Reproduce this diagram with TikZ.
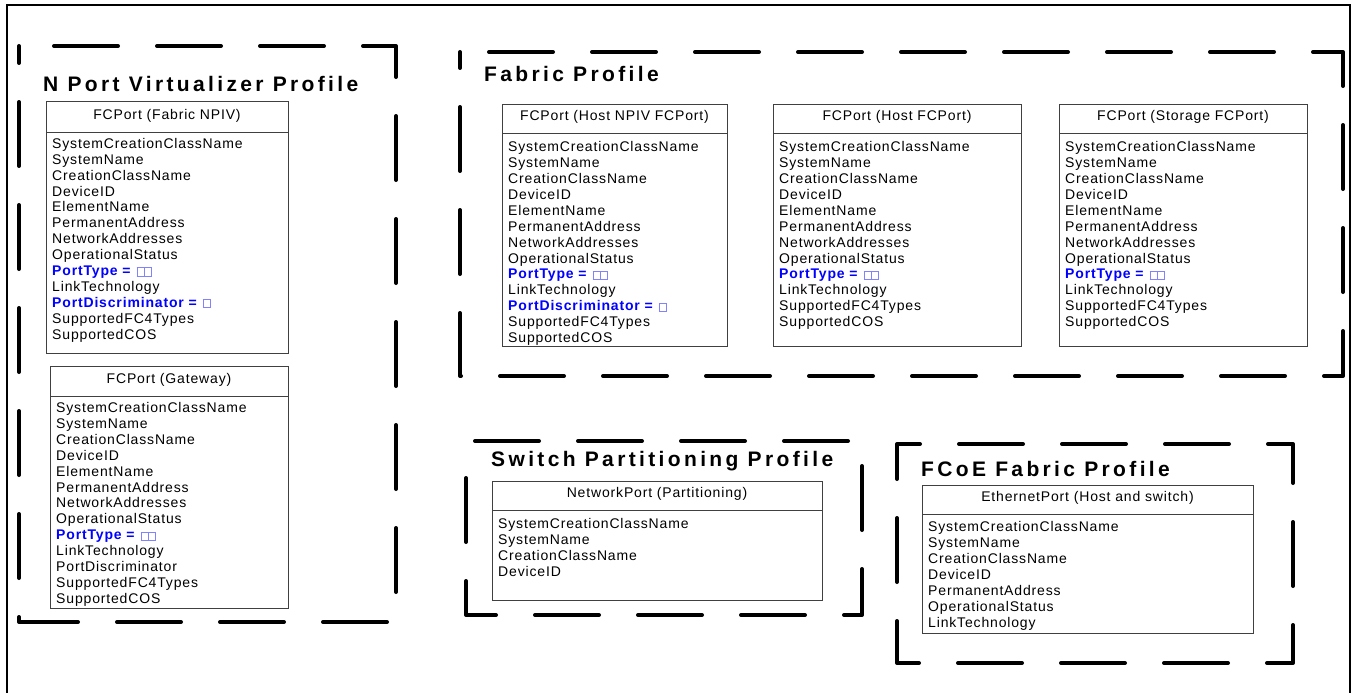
\documentclass[tikz,border=0pt]{standalone}
\usepackage{fontspec}
\setmainfont{Liberation Sans}
\newfontfamily\bodyfont[LetterSpace=6]{Liberation Sans}
\newfontfamily\ttlfont[LetterSpace=16]{Liberation Sans}
\definecolor{pblue}{RGB}{0,0,255}
\definecolor{sqblue}{RGB}{130,130,255}
\newcommand\sqglyph{\textcolor{sqblue}{\fboxsep=0pt\fboxrule=0.8pt\fbox{\rule{0pt}{7.4pt}\hspace{6.4pt}}}}
\newcommand\ptype{\textcolor{pblue}{\bfseries PortType =}\hspace{6pt}\sqglyph\hspace{-0.8pt}\sqglyph}
\newcommand\pdisc{\textcolor{pblue}{\bfseries PortDiscriminator =}\hspace{6pt}\sqglyph}
\tikzset{
  profile/.style={line width=4pt, line cap=round, line join=round, dash pattern=on 64pt off 39pt},
  classbox/.style={draw=black!75, line width=0.8pt, rectangle, inner sep=0pt, outer sep=0pt, anchor=north west},
  classline/.style={draw=black!75, line width=0.8pt},
  rowtext/.style={font=\bodyfont\fontsize{14}{16}\selectfont, anchor=base west, inner sep=0pt},
  hdtext/.style={font=\bodyfont\fontsize{14}{16}\selectfont, anchor=base, inner sep=0pt},
  ptitle/.style={font=\ttlfont\bfseries\fontsize{21}{24}\selectfont, anchor=base west, inner sep=0pt},
  frame/.style={line width=1.5pt}
}
% #1 name, #2 x1, #3 y1, #4 x2, #5 ydiv, #6 y2, #7 first row baseline, #8 header, #9 rows
\newcommand\umlbox[9]{%
  \node[classbox, minimum width={(#4-#2)*1pt}, minimum height={(#6-#3)*1pt}] (#1) at (#2,#3) {};
  \draw[classline] (#2,#5) -- (#4,#5);
  \node[hdtext] (#1-h) at ({(#2+#4)/2},{#5-12.5}) {#8};
  \foreach \rowtxt [count=\i from 0] in {#9}
    \node[rowtext] (#1-r\i) at ({#2+6},{#7+15.9*\i}) {\rowtxt};
}
\begin{document}
\begin{tikzpicture}[x=1pt,y=-1pt]
\useasboundingbox (0,0) rectangle (1354,693);
\fill[white] (0,0) rectangle (1354,693);
\draw[frame] (7,693) -- (7,5) -- (1350,5) -- (1350,693);

% profiles
\draw[profile, dash phase=68pt] (19,46) -- (396,46) -- (396,622) -- (19,622) -- cycle;
\draw[profile, dash phase=74pt] (460,52) -- (1343,52) -- (1343,376) -- (460,376) -- cycle;
\draw[profile, dash phase=94pt] (466,441) -- (862,441) -- (862,615) -- (466,615) -- cycle;
\draw[profile, dash phase=41pt] (897,444) -- (1293,444) -- (1293,663) -- (897,663) -- cycle;

\node[ptitle] (t-npiv) at (43,91.5) {N Port Virtualizer Profile};
\node[ptitle] (t-fab) at (484,81.5) {Fabric Profile};
\node[ptitle] (t-sw) at (491,466.5) {Switch Partitioning Profile};
\node[ptitle] (t-fcoe) at (921,476.5) {FCoE Fabric Profile};

\umlbox{npiv}{46}{101}{288}{132}{353}{148.3}{FCPort (Fabric NPIV)}{SystemCreationClassName,SystemName,CreationClassName,DeviceID,ElementName,PermanentAddress,NetworkAddresses,OperationalStatus,\ptype,LinkTechnology,\pdisc,SupportedFC4Types,SupportedCOS}
\umlbox{gw}{50}{366}{288}{396}{608}{412.5}{FCPort (Gateway)}{SystemCreationClassName,SystemName,CreationClassName,DeviceID,ElementName,PermanentAddress,NetworkAddresses,OperationalStatus,\ptype,LinkTechnology,PortDiscriminator,SupportedFC4Types,SupportedCOS}
\umlbox{hnpiv}{502}{104}{727}{133}{346}{151.7}{FCPort (Host NPIV FCPort)}{SystemCreationClassName,SystemName,CreationClassName,DeviceID,ElementName,PermanentAddress,NetworkAddresses,OperationalStatus,\ptype,LinkTechnology,\pdisc,SupportedFC4Types,SupportedCOS}
\umlbox{hfc}{773}{104}{1021}{133}{346}{151.7}{FCPort (Host FCPort)}{SystemCreationClassName,SystemName,CreationClassName,DeviceID,ElementName,PermanentAddress,NetworkAddresses,OperationalStatus,\ptype,LinkTechnology,SupportedFC4Types,SupportedCOS}
\umlbox{sfc}{1059}{104}{1307}{133}{346}{151.7}{FCPort (Storage FCPort)}{SystemCreationClassName,SystemName,CreationClassName,DeviceID,ElementName,PermanentAddress,NetworkAddresses,OperationalStatus,\ptype,LinkTechnology,SupportedFC4Types,SupportedCOS}
\umlbox{swp}{492}{481}{822}{510}{600}{528.5}{NetworkPort (Partitioning)}{SystemCreationClassName,SystemName,CreationClassName,DeviceID}
\umlbox{eth}{922}{485}{1253}{514}{633}{531.7}{EthernetPort (Host and switch)}{SystemCreationClassName,SystemName,CreationClassName,DeviceID,PermanentAddress,OperationalStatus,LinkTechnology}
\end{tikzpicture}
\end{document}
